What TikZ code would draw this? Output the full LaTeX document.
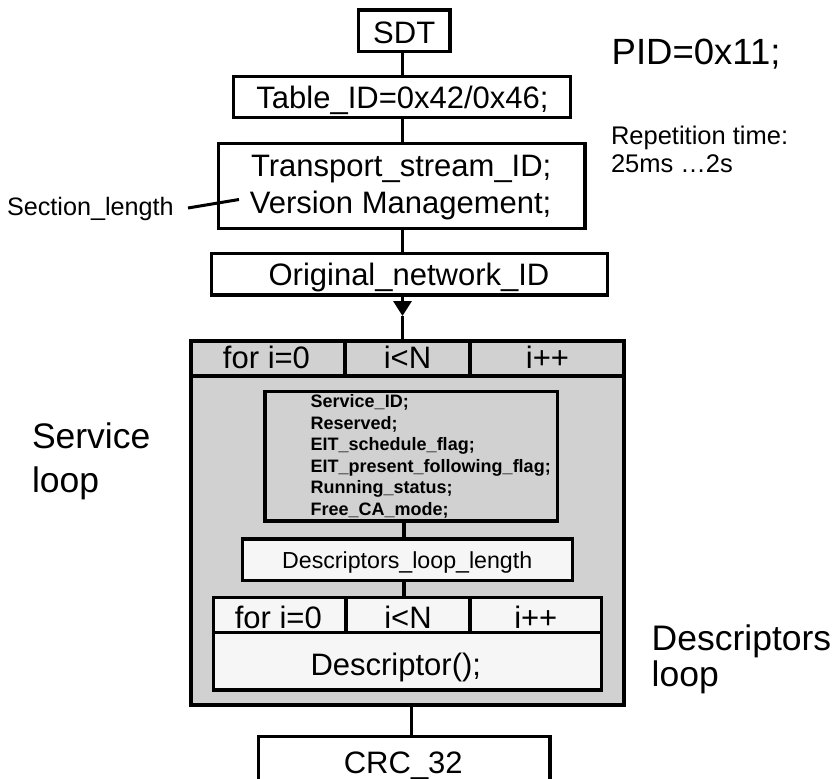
\documentclass[tikz,border=0pt]{standalone}
\usepackage{fontspec}
\setmainfont{Liberation Sans}
\usetikzlibrary{arrows.meta}
\definecolor{loopgray}{RGB}{209,209,209}
\definecolor{lightfill}{RGB}{246,246,246}
\begin{document}
\begin{tikzpicture}[x=1pt,y=-1pt,
  box/.style={draw=black,line width=3.3pt,fill=white,inner sep=0pt,outer sep=0pt},
  conn/.style={draw=black,line width=3.3pt},
  txt/.style={inner sep=0pt,outer sep=0pt,anchor=base,font=\fontsize{31}{36}\selectfont},
  ltxt/.style={inner sep=0pt,outer sep=0pt,anchor=base west},
  svctxt/.style={inner sep=0pt,outer sep=0pt,anchor=base west,font=\fontsize{18}{21.5}\selectfont\bfseries}
]
\useasboundingbox (0,0) rectangle (839,779);

% boxes
\node[box,minimum width=91.7pt,minimum height=41.6pt] (sdt) at (404.2,30.8) {};
\node[box,minimum width=337.4pt,minimum height=41pt] (table) at (402,97.2) {};
\node[box,minimum width=366.7pt,minimum height=85pt] (ts) at (401.7,185.8) {};
\node[box,minimum width=395.6pt,minimum height=41.7pt] (orig) at (409.5,274.2) {};
\node[box,fill=loopgray,line width=3.8pt,minimum width=432.7pt,minimum height=363.7pt] (svcloop) at (407.7,522.9) {};
\node[box,fill=loopgray,minimum width=292.3pt,minimum height=129.3pt] (svcbox) at (411.2,456.3) {};
\node[box,fill=lightfill,minimum width=329.6pt,minimum height=41.6pt] (dll) at (407.5,559.8) {};
\node[box,fill=lightfill,minimum width=388.3pt,minimum height=92.3pt] (dloop) at (407.5,643.8) {};
\node[box,minimum width=291.7pt,minimum height=80pt,anchor=north] (crc) at (404.2,736.7) {};

% header rows
\coordinate (h1l) at (191.3,376);
\coordinate (h1r) at (624,376);
\draw[conn] (h1l) -- (h1r);
\draw[conn] (svcloop.north -| 345,0) -- (345,376);
\draw[conn] (svcloop.north -| 470,0) -- (470,376);
\coordinate (h2l) at (213.4,632.5);
\coordinate (h2r) at (601.7,632.5);
\draw[conn] (h2l) -- (h2r);
\draw[conn] (dloop.north -| 346,0) -- (346,632.5);
\draw[conn] (dloop.north -| 470,0) -- (470,632.5);

% connectors
\coordinate (cx) at (402.5,0);
\coordinate (cm) at (404,0);
\coordinate (cb) at (411.5,0);
\draw[conn] (cx |- sdt.south) -- (cx |- table.north);
\draw[conn] (cx |- table.south) -- (cx |- ts.north);
\draw[conn] (cx |- ts.south) -- (cx |- orig.north);
\coordinate (tip) at (402.5,316);
\draw[conn,-{Triangle[width=18pt,length=15pt]}] (cx |- orig.south) -- (tip);
\draw[conn] (tip) -- (cx |- svcloop.north);
\draw[conn] (cm |- svcbox.south) -- (cm |- dll.north);
\draw[conn] (cm |- dll.south) -- (cm |- dloop.north);
\draw[conn] (cb |- svcloop.south) -- (cb |- crc.north);

% box texts
\node[txt] (tsdt) at (404.2,43.3) {SDT};
\node[txt] (ttable) at (402.5,108.3) {Table\_ID=0x42/0x46;};
\node[txt] (tts1) at (401.2,176.7) {Transport\_stream\_ID;};
\node[txt] (tts2) at (400.6,213.3) {Version Management;};
\node[txt] (torig) at (409,285) {Original\_network\_ID};
\node[txt] (h1a) at (266.5,368.3) {for i=0};
\node[txt] (h1b) at (407.5,368.3) {i<N};
\node[txt] (h1c) at (547.5,368.3) {i++};
\node[txt] (h2a) at (278.3,628.3) {for i=0};
\node[txt] (h2b) at (408,628.3) {i<N};
\node[txt] (h2c) at (535.8,628.3) {i++};
\node[txt] (tdesc) at (395.8,675) {Descriptor();};
\node[txt,font=\fontsize{23.2}{26}\selectfont] (tdll) at (407.2,568.3) {Descriptors\_loop\_length};
\node[txt] (tcrc) at (403.3,773) {CRC\_32};

% service fields
\node[svctxt] (s1) at (310.7,407.5) {Service\_ID;};
\node[svctxt] (s2) at (310.7,429) {Reserved;};
\node[svctxt] (s3) at (310.7,450.5) {EIT\_schedule\_flag;};
\node[svctxt] (s4) at (310.7,472) {EIT\_present\_following\_flag;};
\node[svctxt] (s5) at (310.7,493.5) {Running\_status;};
\node[svctxt] (s6) at (310.7,515) {Free\_CA\_mode;};

% side texts
\node[ltxt,font=\fontsize{36.5}{40}\selectfont] (pid) at (611.7,64) {PID=0x11;};
\node[ltxt,font=\fontsize{25.5}{28}\selectfont] (rep1) at (611,144) {Repetition time:};
\node[ltxt,font=\fontsize{25.5}{28}\selectfont] (rep2) at (611,172) {25ms …2s};
\node[ltxt,font=\fontsize{25.2}{28}\selectfont] (secl) at (7,215) {Section\_length};
\node[ltxt,font=\fontsize{35.5}{40}\selectfont] (svl1) at (32,448.3) {Service};
\node[ltxt,font=\fontsize{35.5}{40}\selectfont] (svl2) at (32,492.5) {loop};
\node[ltxt,font=\fontsize{35.5}{40}\selectfont] (dsl1) at (651.7,650) {Descriptors};
\node[ltxt,font=\fontsize{35.5}{40}\selectfont] (dsl2) at (651.7,686) {loop};

% section length pointer
\coordinate (slA) at (188,208);
\coordinate (slB) at (239,199.5);
\draw[conn,line width=3pt] (slA) -- (slB);
\end{tikzpicture}
\end{document}
